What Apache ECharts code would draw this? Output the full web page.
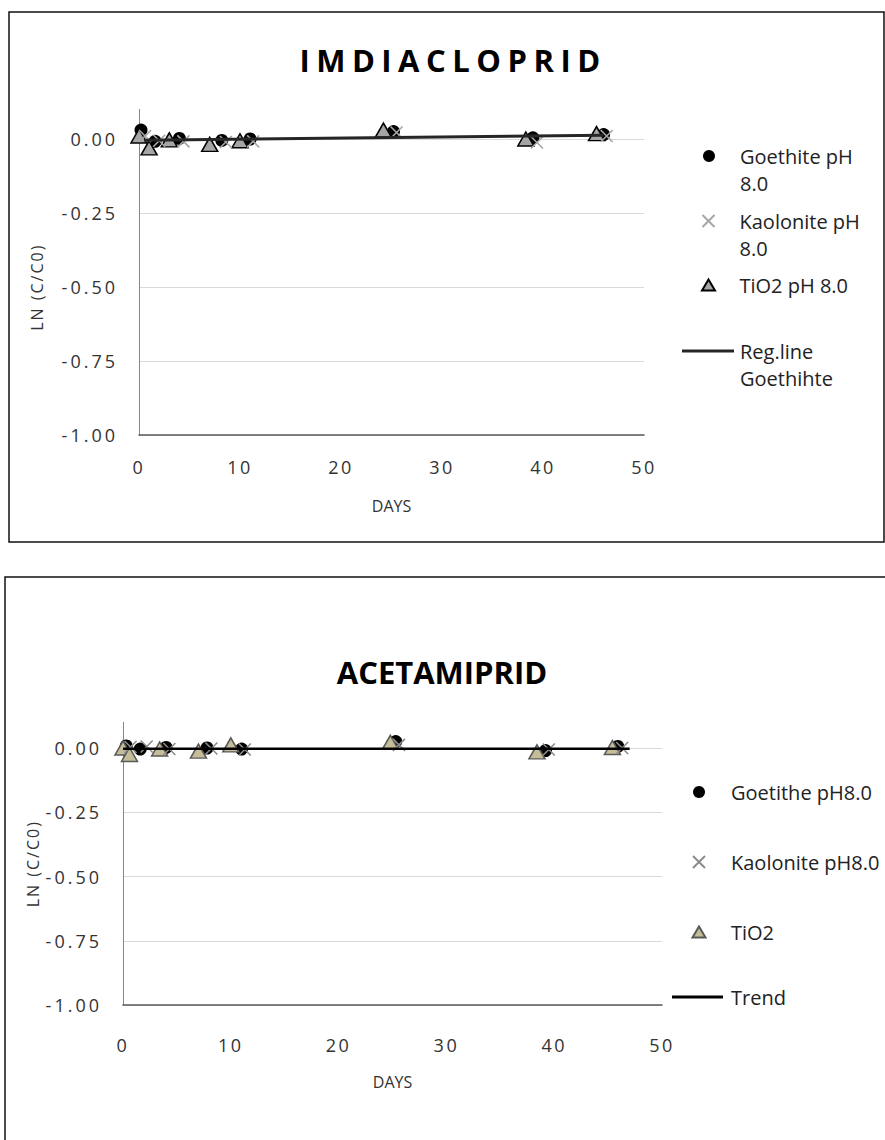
<!DOCTYPE html>
<html>
<head>
<meta charset="utf-8">
<script src="https://cdn.jsdelivr.net/npm/echarts@6/dist/echarts.min.js"></script>
<style>
  html, body { margin: 0; padding: 0; background: #fff; }
  #chart { width: 885px; height: 1140px; }
</style>
</head>
<body>
<div id="chart"></div>
<script>
// ---- axis ticks (shared by both panels) ----
const dayTicks = [0, 10, 20, 30, 40, 50];
const lnTicks = [-1.00, -0.75, -0.50, -0.25, 0.00];
const lnAxisTop = 0.1;

// ---- IMDIACLOPRID ----
const imiGoethiteDays = [0.2, 1.6, 4.0, 8.2, 11.0, 25.2, 39.0, 46.0];
const imiGoethiteLn   = [0.030, -0.008, 0.002, -0.005, 0.000, 0.025, 0.004, 0.015];
const imiKaoliniteDays = [0.6, 2.0, 4.4, 8.6, 11.3, 25.5, 39.4, 46.3];
const imiKaoliniteLn   = [0.010, -0.006, -0.008, -0.010, -0.008, 0.022, -0.012, 0.010];
const imiTio2Days = [0.0, 1.0, 3.0, 7.0, 10.0, 24.2, 38.3, 45.3];
const imiTio2Ln   = [0.010, -0.030, -0.003, -0.018, -0.006, 0.030, 0.000, 0.018];
const imiRegDays = [0.5, 46.0];
const imiRegLn   = [-0.004, 0.013];

// ---- ACETAMIPRID ----
const aceGoethiteDays = [0.3, 1.6, 4.0, 7.8, 11.0, 25.3, 39.2, 45.9];
const aceGoethiteLn   = [0.008, -0.004, 0.002, 0.000, -0.004, 0.025, -0.010, 0.006];
const aceKaoliniteDays = [0.7, 2.2, 4.3, 8.2, 11.3, 25.6, 39.5, 46.3];
const aceKaoliniteLn   = [0.004, 0.006, -0.004, -0.002, -0.006, 0.012, -0.006, 0.000];
const aceTio2Days = [0.0, 0.6, 3.4, 7.0, 10.0, 24.8, 38.4, 45.4];
const aceTio2Ln   = [0.000, -0.025, -0.004, -0.012, 0.012, 0.022, -0.015, 0.002];
const aceTrendDays = [0, 47];
const aceTrendLn   = [-0.003, -0.003];

const pairs = (xs, ys) => xs.map((x, i) => [x, ys[i]]);
const CROSS = 'path://M0,0L10,10M10,0L0,10';
const FONT = 'Open Sans';
const LEGEND_FONT = 20;
const LEGEND_LH = 27;
const Y_NAME = 'LN (C/C0)';

const chart = echarts.init(document.getElementById('chart'), null, { renderer: 'svg' });

function xAxis(gridIndex, labelMargin, nameGap) {
  return {
    type: 'value', gridIndex,
    min: dayTicks[0], max: dayTicks[dayTicks.length - 1],
    interval: dayTicks[1] - dayTicks[0],
    name: 'DAYS', nameLocation: 'middle', nameGap,
    nameTextStyle: { fontFamily: FONT, fontSize: 16, color: '#333' },
    axisLine: { onZero: false, lineStyle: { color: '#595959', width: 1.5 } },
    axisTick: { show: false },
    splitLine: { show: false },
    axisLabel: { margin: labelMargin, fontFamily: FONT, fontSize: 18, color: '#333' }
  };
}

function yAxis(gridIndex, nameGap, namePadRight) {
  return {
    type: 'value', gridIndex,
    min: lnTicks[0], max: lnAxisTop,
    interval: lnTicks[1] - lnTicks[0],
    name: Y_NAME, nameLocation: 'middle', nameGap,
    nameTextStyle: { fontFamily: FONT, fontSize: 16, color: '#333', padding: [0, namePadRight, 0, 0] },
    axisLine: { show: true, onZero: false, lineStyle: { color: '#868686', width: 1 } },
    axisTick: { show: false },
    splitLine: { show: true, showMaxLine: false, lineStyle: { color: '#d9d9d9', width: 1 } },
    axisLabel: {
      margin: 21, fontFamily: FONT, fontSize: 18, color: '#333',
      showMaxLabel: false,
      formatter: v => v.toFixed(2)
    }
  };
}

// one legend block per entry so each row sits where it belongs;
// two-line labels keep the symbol level with their first line
function legendEntry(name, lines, cx, cy, w, h, textLeft, icon) {
  const left = cx - w / 2;
  const base = { fontFamily: FONT, fontSize: LEGEND_FONT, color: '#222' };
  const entry = {
    data: [icon ? { name, icon } : name], selectedMode: false, padding: 0,
    left: left, itemWidth: w, itemHeight: h,
    textStyle: Object.assign({}, base, {
      lineHeight: LEGEND_LH,
      padding: [0, 0, 0, textLeft - (left + w + 5)]
    })
  };
  if (lines.length === 2) {
    entry.formatter = () => '{a|' + lines[0] + '}\n{b|' + lines[1] + '}';
    entry.textStyle.rich = {
      a: Object.assign({}, base, { lineHeight: 2 * LEGEND_LH, height: LEGEND_LH, verticalAlign: 'bottom' }),
      b: Object.assign({}, base, { lineHeight: LEGEND_LH })
    };
    entry.top = cy - Math.max(h, 3 * LEGEND_LH) / 2;
  } else {
    entry.formatter = () => lines[0];
    entry.top = cy - Math.max(h, LEGEND_LH) / 2;
  }
  return entry;
}

const option = {
  animation: false,
  backgroundColor: '#fff',
  grid: [
    { left: 139, top: 109.4, width: 505, height: 325.6 },
    { left: 123, top: 722.3, width: 539, height: 282.7 }
  ],
  xAxis: [xAxis(0, 23, 63), xAxis(1, 31, 69)],
  yAxis: [yAxis(0, 94, 30), yAxis(1, 82, 0)],
  legend: [
    legendEntry('Goethite pH 8.0', ['Goethite pH', '8.0'], 709, 156, 12, 12, 740),
    legendEntry('Kaolonite pH 8.0', ['Kaolonite pH', '8.0'], 706, 221, 12, 12, 737),
    legendEntry('TiO2 pH 8.0', ['TiO2 pH 8.0'], 707.5, 285, 13, 11, 738.5),
    legendEntry('Reg.line Goethihte', ['Reg.line', 'Goethihte'], 708, 351, 52, 3, 740, 'rect'),
    legendEntry('Goetithe pH8.0', ['Goetithe pH8.0'], 699, 792, 12, 12, 731),
    legendEntry('Kaolonite pH8.0', ['Kaolonite pH8.0'], 696.5, 862, 12, 12, 728.5),
    legendEntry('TiO2', ['TiO2'], 698, 932, 13, 11, 730),
    legendEntry('Trend', ['Trend'], 697.5, 997, 51, 3, 731, 'rect')
  ],
  graphic: [
    { type: 'rect', shape: { x: 9, y: 12, width: 875, height: 530 },
      style: { fill: 'none', stroke: '#111', lineWidth: 1.5 }, silent: true },
    { type: 'rect', shape: { x: 5, y: 577, width: 900, height: 600 },
      style: { fill: 'none', stroke: '#111', lineWidth: 1.5 }, silent: true },
    { type: 'text', x: 453, y: 60, silent: true,
      style: { text: 'IMDIACLOPRID', fontFamily: FONT, fontWeight: 'bold', fontSize: 31,
               fill: '#000', align: 'center', verticalAlign: 'middle' } },
    { type: 'text', x: 442, y: 672, silent: true,
      style: { text: 'ACETAMIPRID', fontFamily: FONT, fontWeight: 'bold', fontSize: 31,
               fill: '#000', align: 'center', verticalAlign: 'middle' } }
  ],
  series: [
    // IMDIACLOPRID panel
    { type: 'scatter', name: 'Goethite pH 8.0', xAxisIndex: 0, yAxisIndex: 0,
      data: pairs(imiGoethiteDays, imiGoethiteLn), symbol: 'circle', symbolSize: 13,
      itemStyle: { color: '#000', opacity: 1 }, z: 2 },
    { type: 'scatter', name: 'Kaolonite pH 8.0', xAxisIndex: 0, yAxisIndex: 0,
      data: pairs(imiKaoliniteDays, imiKaoliniteLn), symbol: CROSS, symbolSize: 12,
      itemStyle: { color: 'none', borderColor: '#a6a6a6', borderWidth: 1.6, opacity: 1 }, z: 4 },
    { type: 'scatter', name: 'TiO2 pH 8.0', xAxisIndex: 0, yAxisIndex: 0,
      data: pairs(imiTio2Days, imiTio2Ln), symbol: 'triangle', symbolSize: [16, 14],
      itemStyle: { color: '#a5a5a5', borderColor: '#000', borderWidth: 1.5, opacity: 1 }, z: 3 },
    { type: 'line', name: 'Reg.line Goethihte', xAxisIndex: 0, yAxisIndex: 0,
      data: pairs(imiRegDays, imiRegLn), symbol: 'none',
      lineStyle: { color: '#262626', width: 3 }, itemStyle: { color: '#262626' }, z: 5 },

    // ACETAMIPRID panel
    { type: 'scatter', name: 'Goetithe pH8.0', xAxisIndex: 1, yAxisIndex: 1,
      data: pairs(aceGoethiteDays, aceGoethiteLn), symbol: 'circle', symbolSize: 13,
      itemStyle: { color: '#000', opacity: 1 }, z: 2 },
    { type: 'scatter', name: 'Kaolonite pH8.0', xAxisIndex: 1, yAxisIndex: 1,
      data: pairs(aceKaoliniteDays, aceKaoliniteLn), symbol: CROSS, symbolSize: 12,
      itemStyle: { color: 'none', borderColor: '#8c8c8c', borderWidth: 1.6, opacity: 1 }, z: 4 },
    { type: 'scatter', name: 'TiO2', xAxisIndex: 1, yAxisIndex: 1,
      data: pairs(aceTio2Days, aceTio2Ln), symbol: 'triangle', symbolSize: [16, 14],
      itemStyle: { color: '#c4bd97', borderColor: '#595959', borderWidth: 1.5, opacity: 1 }, z: 3 },
    { type: 'line', name: 'Trend', xAxisIndex: 1, yAxisIndex: 1,
      data: pairs(aceTrendDays, aceTrendLn), symbol: 'none',
      lineStyle: { color: '#000', width: 2.5 }, itemStyle: { color: '#000' }, z: 5 }
  ]
};

chart.setOption(option);

// wider character tracking on the top title, the tick labels and the y-axis names
const yLabelSet = new Set(lnTicks.map(v => v.toFixed(2)));
const xLabelSet = new Set(dayTicks.map(String));
function applyTracking() {
  document.querySelectorAll('#chart svg text').forEach(t => {
    const s = t.textContent;
    if (s === 'IMDIACLOPRID') t.setAttribute('letter-spacing', '6.5');
    else if (s === Y_NAME) t.setAttribute('letter-spacing', '2');
    else if (yLabelSet.has(s)) t.setAttribute('letter-spacing', '3');
    else if (xLabelSet.has(s)) t.setAttribute('letter-spacing', '2.5');
  });
}
chart.on('finished', applyTracking);
applyTracking();
</script>
</body>
</html>
